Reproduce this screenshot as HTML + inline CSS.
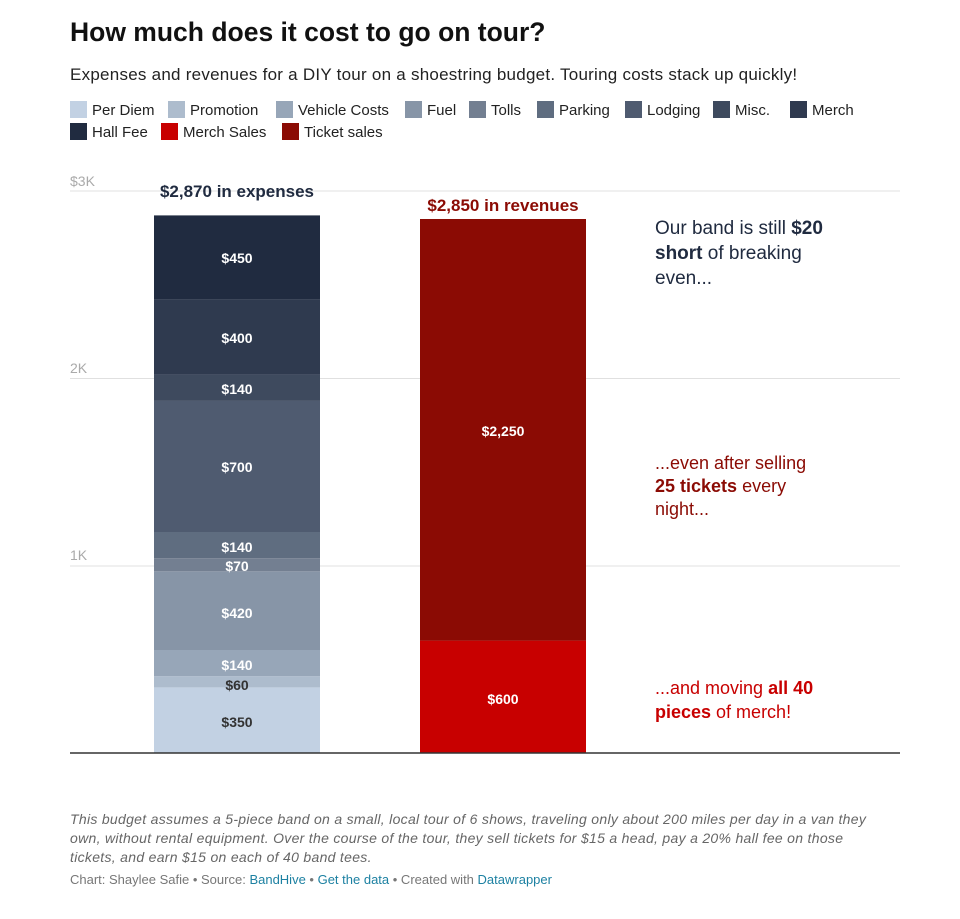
<!DOCTYPE html>
<html><head><meta charset="utf-8"><style>
body{margin:0;background:#fff;font-family:"Liberation Sans",sans-serif;width:960px;height:919px;overflow:hidden;position:relative}
.t{position:absolute;white-space:nowrap}
.lg{position:absolute;font-size:15px;color:#222;}
.lg span{display:inline-block;width:17px;height:17px;vertical-align:-3px;margin-right:5px}
</style></head><body>
<div class="t" style="left:70px;top:17px;font-size:26.5px;font-weight:bold;color:#111">How much does it cost to go on tour?</div>
<div class="t" style="left:70px;top:65px;font-size:17px;letter-spacing:0.25px;color:#222">Expenses and revenues for a DIY tour on a shoestring budget. Touring costs stack up quickly!</div>
<div class="lg" style="left:70px;top:101px"><span style="background:#c2d1e3"></span>Per Diem</div>
<div class="lg" style="left:168px;top:101px"><span style="background:#adbccd"></span>Promotion</div>
<div class="lg" style="left:276px;top:101px"><span style="background:#97a6b8"></span>Vehicle Costs</div>
<div class="lg" style="left:405px;top:101px"><span style="background:#8795a7"></span>Fuel</div>
<div class="lg" style="left:469px;top:101px"><span style="background:#737f91"></span>Tolls</div>
<div class="lg" style="left:537px;top:101px"><span style="background:#5f6d80"></span>Parking</div>
<div class="lg" style="left:625px;top:101px"><span style="background:#4f5b70"></span>Lodging</div>
<div class="lg" style="left:713px;top:101px"><span style="background:#3e4a5e"></span>Misc.</div>
<div class="lg" style="left:790px;top:101px"><span style="background:#2f3a4f"></span>Merch</div>
<div class="lg" style="left:70px;top:123px"><span style="background:#202b40"></span>Hall Fee</div>
<div class="lg" style="left:161px;top:123px"><span style="background:#c80000"></span>Merch Sales</div>
<div class="lg" style="left:282px;top:123px"><span style="background:#8b0b04"></span>Ticket sales</div>
<svg style="position:absolute;left:0;top:0" width="960" height="919" font-family="Liberation Sans, sans-serif">
<g stroke="#e0e0e0" stroke-width="1">
<line x1="70" x2="900" y1="191" y2="191"/><line x1="70" x2="900" y1="378.5" y2="378.5"/><line x1="70" x2="900" y1="566" y2="566"/></g>
<g fill="#aaa" font-size="14"><text x="70" y="186">$3K</text><text x="70" y="373">2K</text><text x="70" y="560">1K</text></g>
<rect x="154" y="687.4" width="166" height="65.6" fill="#c2d1e3"/>
<rect x="154" y="676.2" width="166" height="11.2" fill="#adbccd"/>
<rect x="154" y="650" width="166" height="26.2" fill="#97a6b8"/>
<rect x="154" y="571.3" width="166" height="78.7" fill="#8795a7"/>
<rect x="154" y="558.2" width="166" height="13.1" fill="#737f91"/>
<rect x="154" y="532" width="166" height="26.2" fill="#5f6d80"/>
<rect x="154" y="400.9" width="166" height="131.1" fill="#4f5b70"/>
<rect x="154" y="374.6" width="166" height="26.3" fill="#3e4a5e"/>
<rect x="154" y="299.7" width="166" height="74.9" fill="#2f3a4f"/>
<rect x="154" y="215.4" width="166" height="84.3" fill="#202b40"/>
<rect x="420" y="640.6" width="166" height="112.4" fill="#c80000"/>
<rect x="420" y="219" width="166" height="421.6" fill="#8b0b04"/>
<line x1="70" x2="900" y1="753" y2="753" stroke="#333" stroke-width="1.5"/>
<g font-size="14" font-weight="bold" text-anchor="middle" fill="#fff">
<text x="237" y="727" fill="#333">$350</text><text x="237" y="690" fill="#333">$60</text>
<text x="237" y="670">$140</text><text x="237" y="618">$420</text><text x="237" y="571">$70</text>
<text x="237" y="552">$140</text><text x="237" y="472">$700</text><text x="237" y="394">$140</text>
<text x="237" y="343">$400</text><text x="237" y="263">$450</text>
<text x="503" y="436">$2,250</text><text x="503" y="704">$600</text></g>
<text x="237" y="197" font-size="17" font-weight="bold" text-anchor="middle" fill="#202b40">$2,870 in expenses</text>
<text x="503" y="211" font-size="17" font-weight="bold" text-anchor="middle" fill="#8b0b04">$2,850 in revenues</text>
<g font-size="19" fill="#202b40"><text x="655" y="234">Our band is still <tspan font-weight="bold">$20</tspan></text>
<text x="655" y="259"><tspan font-weight="bold">short</tspan> of breaking</text><text x="655" y="284">even...</text></g>
<g font-size="18" fill="#8b0b04"><text x="655" y="469">...even after selling</text>
<text x="655" y="492"><tspan font-weight="bold">25 tickets</tspan> every</text><text x="655" y="515">night...</text></g>
<g font-size="18" fill="#c80000"><text x="655" y="694">...and moving <tspan font-weight="bold">all 40</tspan></text>
<text x="655" y="718"><tspan font-weight="bold">pieces</tspan> of merch!</text></g>
</svg>
<div class="t" style="left:70px;top:810px;font-size:14px;font-style:italic;color:#666;line-height:19px;letter-spacing:0.3px">This budget assumes a 5-piece band on a small, local tour of 6 shows, traveling only about 200 miles per day in a van they<br>own, without rental equipment. Over the course of the tour, they sell tickets for $15 a head, pay a 20% hall fee on those<br>tickets, and earn $15 on each of 40 band tees.</div>
<div class="t" style="left:70px;top:872px;font-size:13px;color:#777">Chart: Shaylee Safie • Source: <span style="color:#1d81a2">BandHive</span> • <span style="color:#1d81a2">Get the data</span> • Created with <span style="color:#1d81a2">Datawrapper</span></div>
</body></html>
